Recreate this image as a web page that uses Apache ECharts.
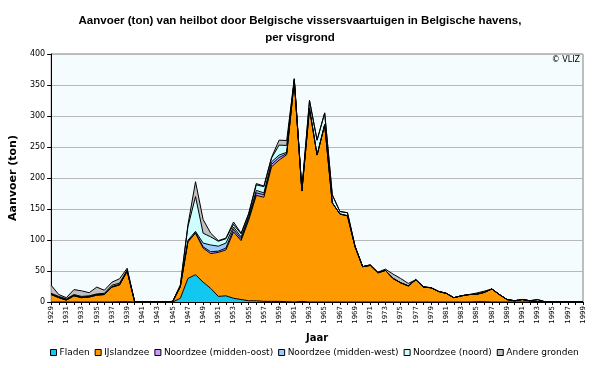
<!DOCTYPE html>
<html>
<head>
<meta charset="utf-8">
<script src="https://cdn.jsdelivr.net/npm/echarts@6/dist/echarts.min.js"></script>
<style>html,body{margin:0;padding:0;background:#fff}#c{width:600px;height:368px}</style>
</head>
<body>
<div id="c"></div>
<script>
const years = [];
for (let y = 1929; y <= 1999; y++) years.push(String(y));

// 1929..1999
const fladen = [0,0,0,0,0,0,0,0,0,0.5,0.5, 0,0,0,0,0, 0,6,38,44,32,22,9,10,6,4,2,2,1,1,1,0.5,0,1,0,0,0,0,0,0,0,0,0,0,0,0,0,0,0,0,0,0,0,0,0,0,0.5,0.5,0,0,0,0,0,0,0,0,0,0,0,0,0];
const ijslandzee = [12,7,3,10,7,8,11,12,24,27,49, 0,0,0,0,0, 1,19,59,67,55,56,71,74,107,95,130,170,168,217,228,237,357,178,312,237,286,160,142,139,89,57,59,47,51,38,31,26,36,24,23,17,14,7,10,12,12,15,21,12,4,2,4,2,1,0.5,0.5,0.5,0.5,0.5,0.5];
const midOost = [0,0,0,0,0,0,0,0,0,0,0, 0,0,0,0,0, 0,0,0.5,1,2,3,2,3,4,3,3,4,4,4,4,2,0,0,0,0,0,0,0,0,0,0,0,0,0,0,0,0,0,0,0,0,0,0,0,0,0,0,0,0,0,0,0,0,0,0,0,0,0,0,0];
const midWest = [1,1,1,1,1,1,1,1,1,1,1, 0,0,0,0,0, 0,0,2,2,6,11,8,8,4,3,3,4,3,4,4,2,0,0,0,0,0,0,0,0,0,0,0,0,0,0,0,0,0,0,0,0,0,0,0,0,0,0,0,0,0,0,0,0,0,0,0,0,0,0,0];
const noord = [1,1,1,1,1,1,1,1,2,2,1, 0,0,0,0,0, 0,2,22,56,16,13,8,7,4,5,4,9,10,6,16,11,3,2,13,24,19,13,4,5,1,0,1,1,0,0,0,0,0,0,0,0,0,0,0,0,0,0,0,0,0,0,0,0,3,0,0,0,0,0,0];
const andere = [13,3,2,8,9,5,11,5,5,7,3, 0,0,0,0,0, 0,0,3,24,22,6,1,1,4,1,1,2,1,1,8,8,0,0,0,0,0,0,0,0,0,0,0,0,2,7,7,4,0,1,0,0,0,0,0,0,2,2,0,0,0,0,0,0,0,0,0,0,0,0,0];
const yTicks = [0,50,100,150,200,250,300,350,400];

const seriesDefs = [
  ['Fladen', fladen, '#10C8F0'],
  ['IJslandzee', ijslandzee, '#FF9900'],
  ['Noordzee (midden-oost)', midOost, '#CC99FF'],
  ['Noordzee (midden-west)', midWest, '#99CCFF'],
  ['Noordzee (noord)', noord, '#CCFFFF'],
  ['Andere gronden', andere, '#C0C0C0']
];

const font = 'Tahoma, "DejaVu Sans", sans-serif';
const titleFont = '"Liberation Sans", Arial, sans-serif';
const chart = echarts.init(document.getElementById('c'), null, {renderer:'canvas'});
chart.setOption({
  animation: false,
  backgroundColor: '#ffffff',
  title: {
    text: 'Aanvoer (ton) van heilbot door Belgische vissersvaartuigen in Belgische havens,\nper visgrond',
    left: 'center', top: 7,
    textStyle: {fontFamily: titleFont, fontSize: 11.5, fontWeight: 'bold', color: '#000', lineHeight: 17}
  },
  graphic: [{
    type: 'text', right: 20, top: 56,
    style: {text: '© VLIZ', fontFamily: font, fontSize: 8, fill: '#000'}
  }],
  grid: {left: 50, right: 17, top: 54, bottom: 66, show: true, backgroundColor: '#F4FCFD', borderColor: '#808080', borderWidth: 1},
  legend: {
    bottom: 6, left: 45, itemWidth: 6, itemHeight: 6, itemGap: 5,
    icon: 'rect',
    itemStyle: {borderColor: '#000', borderWidth: 1},
    textStyle: {fontFamily: font, fontSize: 9, color: '#000', padding: [0,0,0,-2]},
    data: seriesDefs.map(d => d[0])
  },
  xAxis: {
    type: 'category', data: years, boundaryGap: false,
    name: 'Jaar', nameLocation: 'middle', nameGap: 31,
    nameTextStyle: {fontFamily: font, fontSize: 10, fontWeight: 'bold', color: '#000'},
    axisLine: {lineStyle: {color: '#000', width: 1}},
    axisTick: {interval: 0, length: 3, lineStyle: {color: '#000'}},
    axisLabel: {interval: 1, rotate: 90, fontFamily: font, fontSize: 7, color: '#000', margin: 4},
    splitLine: {show: false}
  },
  yAxis: {
    type: 'value', min: yTicks[0], max: yTicks[yTicks.length-1], interval: 50,
    name: 'Aanvoer (ton)', nameLocation: 'middle', nameGap: 30, nameRotate: 90,
    nameTextStyle: {fontFamily: font, fontSize: 11, fontWeight: 'bold', color: '#000'},
    axisLine: {show: true, lineStyle: {color: '#000', width: 1}},
    axisTick: {show: true, length: 4, lineStyle: {color: '#000'}},
    axisLabel: {fontFamily: font, fontSize: 8, color: '#000', margin: 6},
    splitLine: {show: true, lineStyle: {color: '#B8B8B8', width: 1}}
  },
  series: seriesDefs.map(d => ({
    name: d[0], type: 'line', stack: 'total', data: d[1],
    symbol: 'none', smooth: false,
    lineStyle: {color: '#000', width: 1},
    itemStyle: {color: d[2], borderColor: '#000'},
    areaStyle: {color: d[2], opacity: 1}
  }))
});
</script>
</body>
</html>
